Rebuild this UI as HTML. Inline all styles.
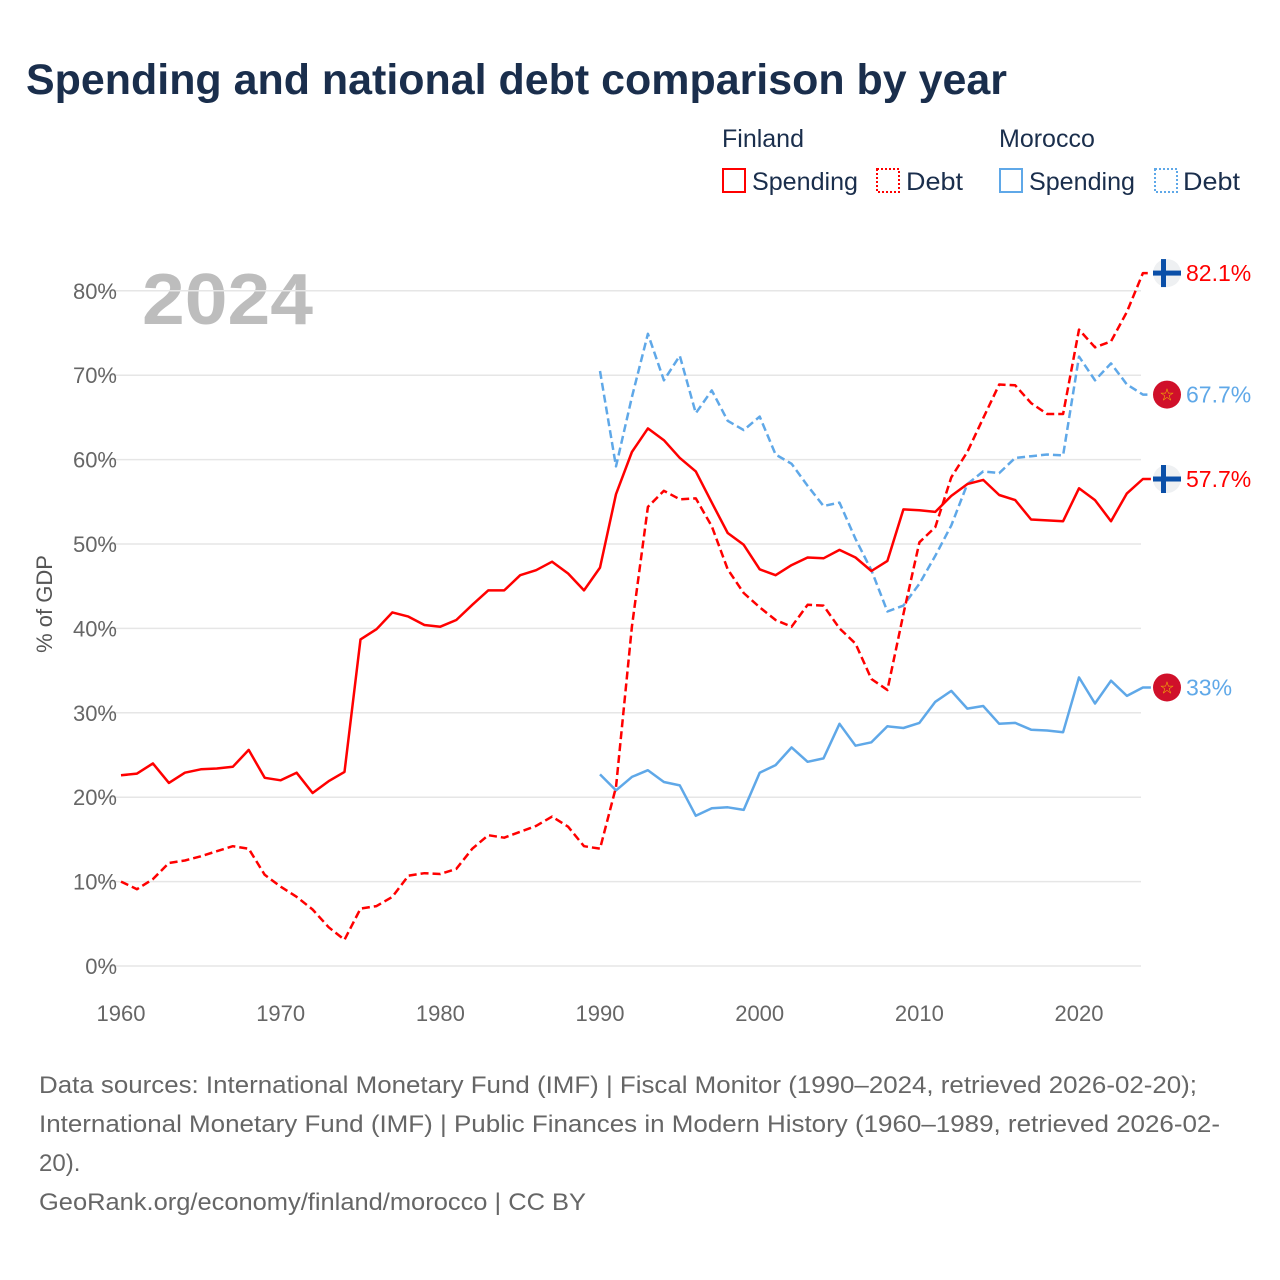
<!DOCTYPE html>
<html><head><meta charset="utf-8">
<style>
body{margin:0;background:#fff;font-family:"Liberation Sans",sans-serif;}
#wrap{position:relative;width:1280px;height:1280px;overflow:hidden;}
</style></head>
<body>
<div id="wrap">
<svg id="chart" width="1280" height="1280">
<text x="26" y="94" font-size="43" font-weight="bold" fill="#1a2e4c" textLength="981" lengthAdjust="spacingAndGlyphs">Spending and national debt comparison by year</text>
<g font-size="25" fill="#1a2e4c">
<text x="722" y="147">Finland</text>
<text x="999" y="147">Morocco</text>
<g><rect x="723" y="169" width="22" height="23" fill="none" stroke="#f00" stroke-width="2"/><text x="752" y="190" textLength="106" lengthAdjust="spacingAndGlyphs">Spending</text></g>
<g><rect x="877" y="169" width="22" height="23" fill="none" stroke="#f00" stroke-width="2" stroke-dasharray="2,2"/><text x="906" y="190" textLength="57" lengthAdjust="spacingAndGlyphs">Debt</text></g>
<g><rect x="1000" y="169" width="22" height="23" fill="none" stroke="#5fa8e8" stroke-width="2"/><text x="1029" y="190" textLength="106" lengthAdjust="spacingAndGlyphs">Spending</text></g>
<g><rect x="1155" y="169" width="22" height="23" fill="none" stroke="#5fa8e8" stroke-width="2" stroke-dasharray="2,2"/><text x="1183" y="190" textLength="57" lengthAdjust="spacingAndGlyphs">Debt</text></g>
</g>
<text x="142" y="324" font-size="72" font-weight="bold" fill="#bdbdbd" textLength="171" lengthAdjust="spacingAndGlyphs">2024</text>
<text transform="translate(52,604) rotate(-90)" text-anchor="middle" font-size="22" fill="#555">% of GDP</text>
<g id="grid"></g><g id="series"></g><g id="labels"></g>
<g font-size="24" fill="#666">
<text x="39" y="1093" textLength="1158" lengthAdjust="spacingAndGlyphs">Data sources: International Monetary Fund (IMF) | Fiscal Monitor (1990–2024, retrieved 2026-02-20);</text>
<text x="39" y="1132" textLength="1181" lengthAdjust="spacingAndGlyphs">International Monetary Fund (IMF) | Public Finances in Modern History (1960–1989, retrieved 2026-02-</text>
<text x="39" y="1171">20).</text>
<text x="39" y="1210" textLength="547" lengthAdjust="spacingAndGlyphs">GeoRank.org/economy/finland/morocco | CC BY</text>
</g>
</svg>
</div>
<script>
const yTicks=[0,10,20,30,40,50,60,70,80];
const xTicks=[1960,1970,1980,1990,2000,2010,2020];
const finYears0=1960, morYears0=1990;
const finSpending=[22.6,22.8,24.0,21.7,22.9,23.3,23.4,23.6,25.6,22.3,22.0,22.9,20.5,21.9,23.0,38.7,39.9,41.9,41.4,40.4,40.2,41.0,42.8,44.5,44.5,46.3,46.9,47.9,46.5,44.5,47.2,55.9,60.9,63.7,62.3,60.2,58.6,54.9,51.3,49.9,47.0,46.3,47.5,48.4,48.3,49.3,48.4,46.8,48.0,54.1,54.0,53.8,55.7,57.1,57.6,55.8,55.2,52.9,52.8,52.7,56.6,55.2,52.7,56.0,57.7];
const finDebt=[10.0,9.1,10.3,12.2,12.5,13.0,13.6,14.2,13.9,10.8,9.4,8.2,6.7,4.6,3.1,6.8,7.1,8.2,10.7,11.0,10.9,11.5,13.9,15.5,15.2,15.9,16.6,17.7,16.5,14.2,13.9,21.2,40.2,54.4,56.3,55.3,55.4,52.1,47.0,44.2,42.5,41.0,40.2,42.8,42.7,40.0,38.2,34.0,32.7,41.7,50.2,52.0,57.9,60.9,64.9,68.9,68.8,66.7,65.4,65.4,75.4,73.3,74.0,77.5,82.1];
const morSpending=[22.7,20.8,22.4,23.2,21.8,21.4,17.8,18.7,18.8,18.5,22.9,23.8,25.9,24.2,24.6,28.7,26.1,26.5,28.4,28.2,28.8,31.3,32.6,30.5,30.8,28.7,28.8,28.0,27.9,27.7,34.2,31.1,33.8,32.0,33.0];
const morDebt=[70.5,59.2,67.4,74.9,69.4,72.3,65.5,68.2,64.6,63.5,65.1,60.6,59.5,56.9,54.5,54.9,50.6,46.9,42.0,42.7,45.3,48.6,52.2,57.1,58.6,58.4,60.2,60.4,60.6,60.5,72.2,69.4,71.4,68.9,67.7];
const NS="http://www.w3.org/2000/svg";
const X=y=>121+(y-1960)*15.967, Y=v=>966-v*8.44;
function mk(t,a,p){const e=document.createElementNS(NS,t);for(const k in a)e.setAttribute(k,a[k]);p.appendChild(e);return e;}
const grid=document.getElementById('grid');
yTicks.forEach(v=>{
 const l=mk('line',{x1:100,x2:1141,y1:Y(v),y2:Y(v),stroke:'#e6e6e6','stroke-width':1.5},grid);
 
 
 const t=mk('text',{x:117,y:Y(v)+8,'text-anchor':'end','font-size':22,fill:'#666'},grid);
 t.textContent=v+'%';
 
 
});
xTicks.forEach(y=>{
 const t=mk('text',{x:X(y),y:1021,'text-anchor':'middle','font-size':22,fill:'#666'},grid);
 t.textContent=y;
 
 
});
const ser=document.getElementById('series');
function line(vals,y0,col,dash,name){
 const pts=vals.map((v,i)=>X(y0+i).toFixed(1)+','+Y(v).toFixed(1));
 const last=vals[vals.length-1];
 pts.push((X(y0+vals.length-1)+8).toFixed(1)+','+Y(last).toFixed(1));
 const p=mk('polyline',{points:pts.join(' '),fill:'none',stroke:col,'stroke-width':2.5,'stroke-linejoin':'round'},ser);
 if(dash)p.setAttribute('stroke-dasharray','8,4');
 
 
}
line(morSpending,morYears0,'#5fa8e8',false,'morocco-spending-line');
line(morDebt,morYears0,'#5fa8e8',true,'morocco-debt-line');
line(finSpending,finYears0,'#f00',false,'finland-spending-line');
line(finDebt,finYears0,'#f00',true,'finland-debt-line');
const lab=document.getElementById('labels');
function flag(v,fin,col,name){
 const cy=Y(v),cx=1167;
 const g=mk('g',{},lab);
 
 
 if(fin){
  mk('circle',{cx:cx,cy:cy,r:14,fill:'#eef0f2'},g);
  mk('rect',{x:cx-14,y:cy-2.5,width:28,height:5,fill:'#0a4fa8'},g);
  mk('rect',{x:cx-6,y:cy-14,width:5,height:28,fill:'#0a4fa8'},g);
 }else{
  mk('circle',{cx:cx,cy:cy,r:14,fill:'#d0102a'},g);
  const s=mk('text',{x:cx,y:cy+6,'text-anchor':'middle','font-size':17,fill:'#f5c400'},g);s.textContent='☆';
 }
 const t=mk('text',{x:1186,y:cy+8,'font-size':23,fill:col},g);
 t.textContent=(Math.round(v*10)/10)+'%';
}
flag(finDebt[finDebt.length-1],true,'#f00','finland-debt-end-label');
flag(morDebt[morDebt.length-1],false,'#5fa8e8','morocco-debt-end-label');
flag(finSpending[finSpending.length-1],true,'#f00','finland-spending-end-label');
flag(morSpending[morSpending.length-1],false,'#5fa8e8','morocco-spending-end-label');
</script>
</body></html>
